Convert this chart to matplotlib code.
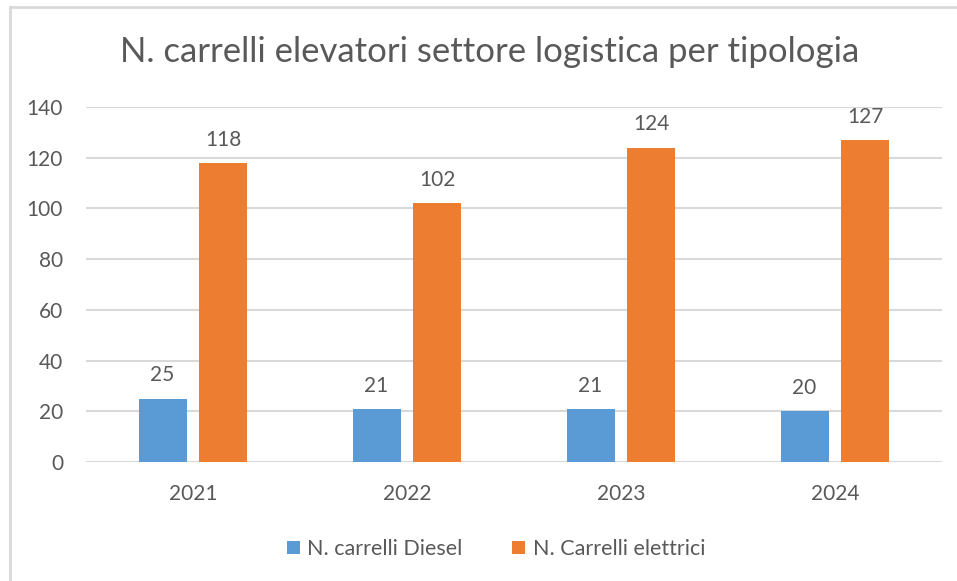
import matplotlib.pyplot as plt
import numpy as np
from matplotlib.lines import Line2D

plt.rcParams['font.family'] = ['Lato', 'DejaVu Sans']

years = ['2021', '2022', '2023', '2024']
diesel = [25, 21, 21, 20]
elettrici = [118, 102, 124, 127]
labels = ['N. carrelli Diesel', 'N. Carrelli elettrici']

blue = '#5B9BD5'
orange = '#ED7D31'
txt = '#595959'
grid = '#D9D9D9'

W, H = 957, 581
fig = plt.figure(figsize=(W / 100, H / 100), dpi=100)
ax = fig.add_axes([86 / W, 119 / H, (942 - 86) / W, 355 / H])

x = np.arange(len(years))
bw = 0.224
gap = 0.06
xb = x - (bw + gap) / 2
xo = x + (bw + gap) / 2
b1 = ax.bar(xb, diesel, bw, color=blue, label=labels[0], zorder=3)
b2 = ax.bar(xo, elettrici, bw, color=orange, label=labels[1], zorder=3)

for bars in (b1, b2):
    for r in bars:
        ax.annotate(f'{int(r.get_height())}', (r.get_x() + r.get_width() / 2, r.get_height()),
                    xytext=(0, 9.5), textcoords='offset points', ha='center', va='bottom',
                    fontsize=15, color=txt)

ax.set_ylim(0, 140)
ax.set_yticks(range(0, 141, 20))
ax.set_xlim(-0.5, len(years) - 0.5)
ax.set_xticks(x)
ax.set_xticklabels(years)
ax.tick_params(axis='both', length=0, labelsize=15, colors=txt)
ax.tick_params(axis='y', pad=16.5)
ax.tick_params(axis='x', pad=16)
ax.yaxis.grid(True, color=grid, linewidth=1.5, zorder=0)
for s in ax.spines.values():
    s.set_visible(False)

fig.text(490 / W, 1 - 52 / H, 'N. carrelli elevatori settore logistica per tipologia',
         ha='center', va='center', fontsize=25, color=txt)

fig.legend(loc='center', bbox_to_anchor=(496 / W, 1 - 549 / H), ncol=2, frameon=False,
           fontsize=15.5, labelcolor=txt, handlelength=0.6, handleheight=0.6,
           handletextpad=0.35, columnspacing=2.3)

# partial chart border (top and left edges visible in the screenshot)
fig.add_artist(Line2D([10 / W, 1], [1 - 7 / H, 1 - 7 / H], color=grid, lw=2, transform=fig.transFigure))
fig.add_artist(Line2D([10 / W, 10 / W], [0, 1 - 7 / H], color=grid, lw=2, transform=fig.transFigure))

fig.savefig('out.png', dpi=100)
